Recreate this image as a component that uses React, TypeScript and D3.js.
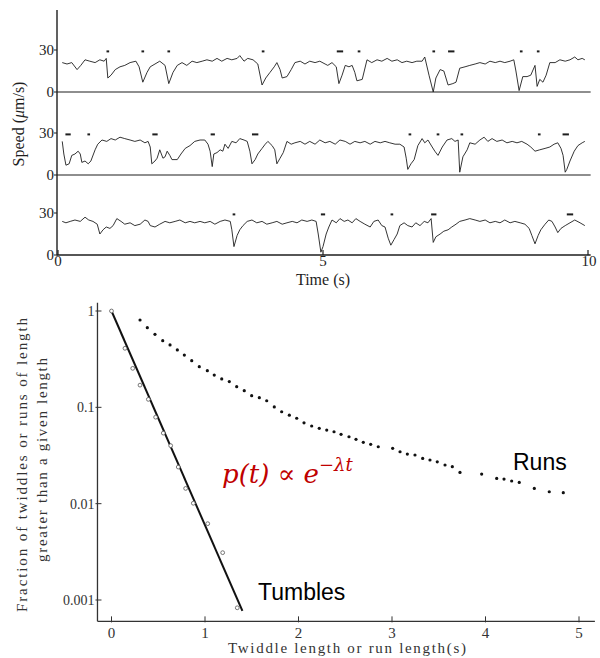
import React from "react";
import * as d3 from "d3";

// ---------- Top panel: swimming speed traces (time s, speed µm/s) ----------
const trace1: [number, number][] = [
  [0.08,21],[0.17,20],[0.26,21],[0.36,16],[0.43,19],[0.51,23],[0.6,22],[0.7,21],[0.79,23],[0.87,22],[0.91,24],[0.94,10],[1.0,12],[1.08,16],[1.17,18],[1.26,19],[1.36,21],[1.47,22],[1.53,18],[1.6,7],[1.68,14],[1.74,18],[1.83,20],[1.92,22],[2.02,19],[2.09,6],[2.17,14],[2.25,19],[2.34,21],[2.43,19],[2.53,22],[2.62,21],[2.72,22],[2.81,23],[2.91,22],[3.0,24],[3.09,22],[3.19,24],[3.28,23],[3.38,24],[3.43,26],[3.51,22],[3.58,24],[3.68,23],[3.77,20],[3.85,5],[3.92,10],[4.0,14],[4.08,18],[4.13,21],[4.19,16],[4.23,10],[4.32,11],[4.4,16],[4.47,21],[4.57,22],[4.66,20],[4.75,22],[4.85,21],[4.94,22],[5.04,20],[5.09,19],[5.17,21],[5.25,18],[5.3,6],[5.36,12],[5.42,19],[5.49,18],[5.55,19],[5.6,14],[5.64,8],[5.74,9],[5.83,23],[5.92,21],[6.02,23],[6.11,22],[6.21,24],[6.3,22],[6.4,23],[6.49,21],[6.58,22],[6.68,21],[6.77,22],[6.87,22],[6.92,25],[7.0,12],[7.08,0],[7.13,10],[7.21,16],[7.28,15],[7.36,5],[7.45,6],[7.51,7],[7.58,17],[7.68,18],[7.77,19],[7.87,20],[7.96,21],[8.06,20],[8.15,22],[8.25,21],[8.34,22],[8.43,21],[8.53,22],[8.6,23],[8.64,15],[8.7,1],[8.77,11],[8.85,11],[8.92,12],[9.0,19],[9.04,4],[9.09,9],[9.15,7],[9.21,12],[9.28,21],[9.38,21],[9.47,23],[9.57,22],[9.66,23],[9.75,25],[9.81,23],[9.89,24],[9.94,23]
];
const trace2: [number, number][] = [
  [0.08,24],[0.11,15],[0.15,7],[0.21,8],[0.26,14],[0.32,15],[0.38,17],[0.42,15],[0.45,9],[0.51,10],[0.57,8],[0.62,10],[0.7,18],[0.75,22],[0.83,25],[0.92,24],[1.0,26],[1.08,25],[1.17,27],[1.26,26],[1.36,25],[1.45,24],[1.55,25],[1.64,23],[1.7,24],[1.74,20],[1.77,8],[1.83,10],[1.87,12],[1.92,18],[1.98,12],[2.02,13],[2.06,17],[2.11,14],[2.15,11],[2.25,11],[2.32,15],[2.4,19],[2.49,21],[2.58,24],[2.68,25],[2.77,25],[2.83,22],[2.87,17],[2.91,6],[2.94,15],[3.0,16],[3.06,18],[3.11,17],[3.15,22],[3.21,19],[3.28,24],[3.36,23],[3.43,26],[3.51,25],[3.57,24],[3.62,17],[3.66,8],[3.72,11],[3.77,15],[3.85,19],[3.91,22],[3.96,24],[4.04,21],[4.09,18],[4.13,8],[4.19,12],[4.25,16],[4.32,24],[4.4,22],[4.47,23],[4.57,24],[4.66,22],[4.75,24],[4.85,22],[4.94,25],[5.04,23],[5.13,24],[5.23,22],[5.32,25],[5.42,24],[5.51,22],[5.6,24],[5.7,23],[5.79,24],[5.89,22],[5.98,24],[6.08,23],[6.17,24],[6.26,23],[6.36,22],[6.45,22],[6.53,20],[6.57,12],[6.6,4],[6.66,8],[6.72,11],[6.79,21],[6.87,26],[6.92,23],[6.98,25],[7.06,20],[7.11,17],[7.17,14],[7.25,20],[7.34,25],[7.43,26],[7.49,24],[7.55,25],[7.58,2],[7.64,13],[7.72,18],[7.77,23],[7.87,22],[7.96,25],[8.04,27],[8.11,24],[8.19,26],[8.28,24],[8.38,25],[8.47,23],[8.57,24],[8.66,23],[8.75,24],[8.85,22],[8.92,20],[9.0,17],[9.09,18],[9.19,19],[9.28,20],[9.36,22],[9.43,23],[9.49,19],[9.53,14],[9.57,2],[9.6,4],[9.66,10],[9.74,17],[9.81,21],[9.89,23],[9.94,24]
];
const trace3: [number, number][] = [
  [0.08,24],[0.15,23],[0.23,24],[0.32,25],[0.42,24],[0.51,27],[0.58,25],[0.66,24],[0.74,22],[0.79,15],[0.85,18],[0.91,20],[0.98,19],[1.04,21],[1.11,26],[1.19,24],[1.26,22],[1.36,23],[1.45,21],[1.55,22],[1.64,25],[1.7,24],[1.74,21],[1.83,20],[1.92,22],[2.02,24],[2.11,23],[2.21,24],[2.3,25],[2.4,23],[2.49,24],[2.58,23],[2.68,24],[2.77,23],[2.87,24],[2.96,22],[3.06,24],[3.15,25],[3.25,24],[3.28,18],[3.32,6],[3.38,14],[3.43,18],[3.49,21],[3.57,24],[3.66,25],[3.75,23],[3.85,24],[3.94,22],[4.04,23],[4.13,24],[4.23,22],[4.32,23],[4.42,24],[4.51,23],[4.6,25],[4.7,24],[4.79,25],[4.87,24],[4.91,15],[4.96,2],[5.0,6],[5.06,15],[5.11,20],[5.17,25],[5.25,23],[5.32,26],[5.4,24],[5.47,25],[5.55,23],[5.62,26],[5.7,24],[5.79,22],[5.89,20],[5.96,24],[6.04,25],[6.11,21],[6.17,20],[6.23,12],[6.28,7],[6.34,11],[6.4,15],[6.45,21],[6.53,23],[6.6,21],[6.68,20],[6.75,23],[6.83,21],[6.91,24],[6.98,23],[7.04,26],[7.08,9],[7.13,13],[7.21,15],[7.28,17],[7.36,18],[7.43,20],[7.51,22],[7.58,24],[7.68,25],[7.77,26],[7.87,25],[7.96,24],[8.06,25],[8.15,23],[8.25,24],[8.34,23],[8.43,25],[8.53,23],[8.62,24],[8.72,23],[8.81,22],[8.89,19],[8.94,14],[9.0,8],[9.06,14],[9.11,18],[9.19,22],[9.26,25],[9.32,24],[9.38,20],[9.43,16],[9.49,19],[9.57,21],[9.66,23],[9.75,25],[9.85,23],[9.94,21]
];
// tumble markers: [centre time s, duration s]
const marks1: [number, number][] = [[0.94,0.05],[1.6,0.05],[2.09,0.05],[3.87,0.05],[5.32,0.12],[5.68,0.05],[7.09,0.05],[7.42,0.12],[8.74,0.05],[9.06,0.05]];
const marks2: [number, number][] = [[0.19,0.1],[0.58,0.05],[1.83,0.1],[2.92,0.08],[3.72,0.12],[6.64,0.05],[7.17,0.05],[7.62,0.05],[9.08,0.05],[9.58,0.12]];
const marks3: [number, number][] = [[3.32,0.05],[5.0,0.08],[6.3,0.05],[7.09,0.1],[9.66,0.12]];
const speedTicks = [0, 30];
const timeTicks = [0, 5, 10];
const markLevel = 29;

// ---------- Bottom panel: survival distributions ----------
const tumbleT = [0, 0.144, 0.227, 0.305, 0.394, 0.472, 0.554, 0.633, 0.714, 0.793, 0.875, 1.029, 1.189, 1.345];
const tumbleP = [1, 0.41, 0.254, 0.17, 0.121, 0.079, 0.054, 0.04, 0.024, 0.0144, 0.0101, 0.0062, 0.0031, 0.00083];
const tumbleFit: [number, number][] = [[0, 1], [1.4, 0.00077]];
const runT = [0.305,0.383,0.465,0.548,0.626,0.704,0.779,0.858,0.939,1.025,1.099,1.179,1.26,1.339,1.42,1.499,1.581,1.66,1.741,1.82,1.902,1.981,2.059,2.141,2.222,2.302,2.38,2.455,2.54,2.615,2.693,2.772,2.853,3.007,3.086,3.164,3.246,3.328,3.406,3.484,3.567,3.645,3.727,3.959,4.12,4.198,4.28,4.361,4.522,4.682,4.832];
const runP = [0.806,0.671,0.573,0.492,0.444,0.394,0.349,0.305,0.264,0.24,0.216,0.197,0.185,0.164,0.149,0.132,0.126,0.117,0.101,0.09,0.083,0.077,0.069,0.064,0.0605,0.058,0.0558,0.0525,0.0495,0.0466,0.0433,0.0413,0.039,0.0375,0.0346,0.0327,0.032,0.0295,0.0284,0.0272,0.0252,0.0242,0.0211,0.0203,0.0183,0.018,0.0172,0.0166,0.0144,0.0133,0.013];
const lenTicks = [0, 1, 2, 3, 4, 5];
const fracTicks = [1, 0.1, 0.01, 0.001];
const fracLabels = ["1", "0.1", "0.01", "0.001"];

const ink = "#1e1e1e";
const serif = "'Liberation Serif', 'Times New Roman', serif";
const sans = "'Liberation Sans', Arial, sans-serif";

export default function App() {
  const xT = d3.scaleLinear().domain([0, 10]).range([58, 588]);
  const panels = [
    { data: trace1, marks: marks1, y0: 92 },
    { data: trace2, marks: marks2, y0: 175 },
    { data: trace3, marks: marks3, y0: 255 },
  ];
  const axisX = 57;

  const xB = d3.scaleLinear().domain([0, 5]).range([111.5, 579]);
  const yB = d3.scaleLog().domain([1, 0.001]).range([311, 600]);
  const bx0 = xB(-0.15), bx1 = xB(5.17);
  const by0 = yB(1.22), by1 = yB(0.0006);

  const fitLine = d3.line<[number, number]>().x(d => xB(d[0])).y(d => yB(d[1]));

  return (
    <svg width={600} height={658} style={{ position: "absolute", left: 0, top: 0, background: "#fff" }}>
      <rect width={600} height={658} fill="#fff" />
      {/* ---------- TOP PANEL ---------- */}
      <line x1={axisX} x2={axisX} y1={10} y2={255.5} stroke={ink} strokeWidth={1.4} />
      {panels.map((p, i) => {
        const y = d3.scaleLinear().domain([0, 30]).range([p.y0, p.y0 - 42]);
        const line = d3.line<[number, number]>().x(d => xT(d[0])).y(d => y(d[1]));
        return (
          <g key={i}>
            <line x1={axisX} x2={xT(10.05)} y1={y(0)} y2={y(0)} stroke={ink} strokeWidth={i === 2 ? 1.4 : 1.2} />
            {speedTicks.map(t => (
              <g key={t}>
                <line x1={axisX - 3} x2={axisX} y1={y(t)} y2={y(t)} stroke={ink} strokeWidth={1} />
                <text x={axisX - 3} y={y(t) + 5} textAnchor="end" fontFamily={serif} fontSize={15} fill={ink}>{t}</text>
              </g>
            ))}
            <path d={line(p.data) || ""} fill="none" stroke={ink} strokeWidth={0.9} strokeLinejoin="round" />
            {p.marks.map((m, j) => (
              <rect key={j} x={xT(m[0] - m[1] / 2)} y={y(markLevel) - 1} width={Math.max(2, xT(m[1]) - xT(0))} height={2} fill={ink} />
            ))}
          </g>
        );
      })}
      {timeTicks.map(t => (
        <g key={t}>
          <line x1={xT(t)} x2={xT(t)} y1={255} y2={250} stroke={ink} strokeWidth={1.2} />
          <text x={xT(t) + (t === 10 ? 1 : 0)} y={266} textAnchor="middle" fontFamily={serif} fontSize={15} fill={ink}>{t}</text>
        </g>
      ))}
      <text x={323} y={285} textAnchor="middle" fontFamily={serif} fontSize={16} fill={ink}>Time (s)</text>
      <text transform="translate(24,124) rotate(-90)" textAnchor="middle" fontFamily={serif} fontSize={16} fill={ink}>Speed (<tspan fontStyle="italic">μ</tspan>m/s)</text>

      {/* ---------- BOTTOM PANEL ---------- */}
      <line x1={bx0} x2={bx0} y1={by0} y2={by1} stroke="#333" strokeWidth={1.3} />
      <line x1={bx0} x2={bx1} y1={by1} y2={by1} stroke="#333" strokeWidth={1.3} />
      {fracTicks.map((v, i) => (
        <g key={v}>
          <line x1={bx0 - 2} x2={bx0 + 4} y1={yB(v)} y2={yB(v)} stroke="#333" strokeWidth={1} />
          <text x={bx0 - 3} y={yB(v) + 5} textAnchor="end" fontFamily={serif} fontSize={14} fill="#333">{fracLabels[i]}</text>
        </g>
      ))}
      {lenTicks.map(t => (
        <g key={t}>
          <line x1={xB(t)} x2={xB(t)} y1={by1 - 5} y2={by1 + 1} stroke="#333" strokeWidth={1} />
          <text x={xB(t)} y={638} textAnchor="middle" fontFamily={serif} fontSize={15} fill="#333">{t}</text>
        </g>
      ))}
      <text x={347} y={653} textAnchor="middle" fontFamily={serif} fontSize={15} fill="#333" textLength={238} lengthAdjust="spacing">Twiddle length or run length(s)</text>
      <text transform="translate(27,465) rotate(-90)" textAnchor="middle" fontFamily={serif} fontSize={15} fill="#333" textLength={294} lengthAdjust="spacing">Fraction of twiddles or runs of length</text>
      <text transform="translate(47,460) rotate(-90)" textAnchor="middle" fontFamily={serif} fontSize={15} fill="#333" textLength={204} lengthAdjust="spacing">greater than a given length</text>

      <path d={fitLine(tumbleFit) || ""} stroke="#111" strokeWidth={2} fill="none" />
      {tumbleT.map((t, i) => (
        <circle key={i} cx={xB(t)} cy={yB(tumbleP[i])} r={1.9} fill="#fff" stroke="#555" strokeWidth={0.8} />
      ))}
      {runT.map((t, i) => (
        <circle key={i} cx={xB(t)} cy={yB(runP[i])} r={1.6} fill="#111" />
      ))}

      <text x={222} y={483} fontFamily="'DejaVu Serif', serif" fontStyle="italic" fontSize={26} fill="#c00000">
        p(t) ∝ e<tspan dy={-12} fontSize={18}>−λt</tspan>
      </text>
      <text x={513} y={470} fontFamily={sans} fontSize={23} fill="#000">Runs</text>
      <text x={258} y={600} fontFamily={sans} fontSize={23} fill="#000">Tumbles</text>
    </svg>
  );
}
